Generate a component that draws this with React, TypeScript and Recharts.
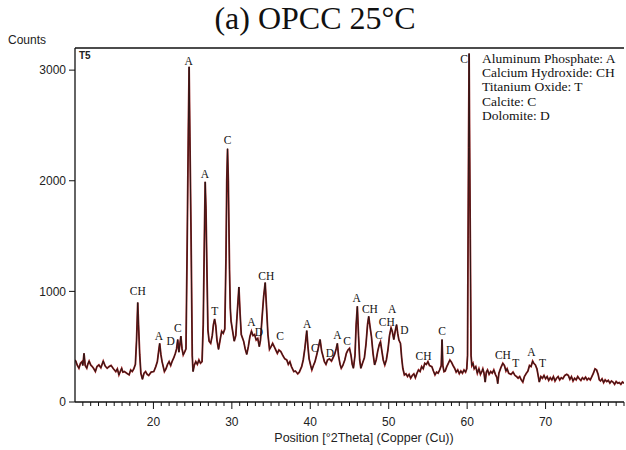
import React from "react";
import {
  ComposedChart,
  Line,
  Scatter,
  XAxis,
  YAxis,
  ReferenceLine,
} from "recharts";

// XRD scan, [2theta, counts], split by angular range
const scan10to25: [number, number][] = [
  [10.0, 380], [10.1, 370], [10.3, 330], [10.5, 305], [10.7, 350], [10.9, 365],
  [11.0, 330], [11.15, 440], [11.3, 330], [11.5, 305], [11.65, 345], [11.8, 370],
  [12.0, 335], [12.2, 320], [12.4, 300], [12.6, 275], [12.8, 320], [13.05, 335],
  [13.3, 310], [13.6, 370], [13.85, 325], [14.1, 305], [14.35, 320], [14.6, 330],
  [14.9, 300], [15.2, 275], [15.4, 300], [15.6, 245], [15.8, 280], [15.95, 305],
  [16.1, 270], [16.3, 275], [16.6, 260], [16.9, 245], [17.1, 290], [17.3, 275],
  [17.5, 300], [17.7, 340], [17.85, 560], [18.0, 900], [18.1, 700], [18.25, 430],
  [18.4, 260], [18.6, 205], [18.8, 260], [19.0, 275], [19.2, 250], [19.4, 240],
  [19.7, 270], [20.05, 275], [20.3, 320], [20.5, 365], [20.65, 450], [20.8, 530],
  [20.95, 430], [21.1, 365], [21.4, 275], [21.6, 300], [21.8, 340], [22.0, 365],
  [22.2, 330], [22.4, 370], [22.6, 400], [22.8, 440], [22.95, 480], [23.1, 565],
  [23.25, 450], [23.5, 595], [23.65, 480], [23.8, 425], [24.0, 455], [24.15, 480],
  [24.3, 1400], [24.45, 2450], [24.55, 3030], [24.65, 2400], [24.8, 1500], [24.95, 420],
];

const scan25to40: [number, number][] = [
  [25.05, 275], [25.2, 330], [25.4, 365], [25.6, 340], [25.8, 380], [26.0, 350],
  [26.2, 365], [26.35, 700], [26.5, 1500], [26.6, 1990], [26.7, 1750], [26.82, 1200],
  [26.95, 650], [27.1, 550], [27.3, 530], [27.5, 600], [27.65, 700], [27.8, 750],
  [27.95, 690], [28.1, 560], [28.3, 475], [28.5, 560], [28.7, 640], [28.9, 620],
  [29.1, 660], [29.25, 1300], [29.35, 2000], [29.45, 2290], [29.55, 2000], [29.7, 1200],
  [29.8, 850], [29.9, 730], [30.1, 640], [30.3, 550], [30.5, 600], [30.7, 820],
  [30.9, 1040], [31.05, 800], [31.2, 610], [31.5, 550], [31.7, 480], [31.9, 430],
  [32.1, 500], [32.3, 590], [32.5, 640], [32.7, 600], [32.9, 610], [33.1, 560],
  [33.3, 575], [33.5, 500], [33.65, 560], [33.85, 760], [34.05, 950], [34.25, 1080],
  [34.4, 880], [34.6, 610], [34.8, 475], [35.0, 500], [35.2, 530], [35.4, 500],
  [35.6, 470], [35.8, 440], [36.0, 470], [36.25, 455], [36.5, 420], [36.75, 390],
  [37.0, 380], [37.2, 340], [37.4, 365], [37.6, 320], [37.9, 275], [38.1, 280],
  [38.4, 255], [38.6, 270], [38.9, 320], [39.1, 380], [39.3, 480], [39.55, 645],
  [39.7, 500], [39.85, 390],
];

const scan40to60: [number, number][] = [
  [40.05, 330], [40.2, 290], [40.4, 330], [40.6, 365], [40.8, 420], [41.0, 480],
  [41.25, 565], [41.45, 460], [41.6, 420], [41.8, 365], [42.0, 340], [42.2, 380],
  [42.45, 390], [42.7, 370], [42.9, 400], [43.1, 430], [43.3, 480], [43.45, 530],
  [43.6, 420], [43.8, 340], [43.95, 305], [44.15, 330], [44.4, 380], [44.6, 440],
  [44.8, 470], [45.0, 485], [45.2, 420], [45.35, 340], [45.5, 305], [45.7, 420],
  [45.85, 700], [46.0, 865], [46.15, 600], [46.3, 380], [46.45, 305], [46.7, 360],
  [46.9, 400], [47.1, 520], [47.3, 700], [47.45, 775], [47.6, 690], [47.8, 590],
  [48.0, 440], [48.2, 335], [48.4, 380], [48.6, 460], [48.8, 520], [48.95, 545],
  [49.15, 450], [49.3, 380], [49.5, 335], [49.7, 380], [49.9, 470], [50.1, 600],
  [50.3, 670], [50.45, 640], [50.65, 565], [50.85, 650], [51.0, 700], [51.15, 620],
  [51.3, 560], [51.5, 530], [51.65, 400], [51.8, 305], [52.0, 245], [52.2, 255],
  [52.4, 230], [52.6, 250], [52.8, 215], [53.0, 240], [53.2, 255], [53.4, 220],
  [53.6, 260], [53.8, 290], [54.0, 275], [54.2, 320], [54.4, 300], [54.6, 350],
  [54.8, 340], [55.0, 365], [55.2, 330], [55.5, 320], [55.7, 280], [55.9, 245],
  [56.1, 270], [56.3, 260], [56.5, 290], [56.7, 330], [56.8, 565], [56.9, 330],
  [57.05, 275], [57.2, 280], [57.4, 320], [57.6, 350], [57.8, 380], [58.0, 360],
  [58.2, 330], [58.4, 305], [58.6, 270], [58.8, 290], [59.0, 255], [59.2, 280],
  [59.4, 260], [59.6, 290], [59.8, 270], [59.95, 300],
];

const scan60to80: [number, number][] = [
  [60.05, 420], [60.12, 1500], [60.18, 2300], [60.25, 3150], [60.32, 2300], [60.4, 1480],
  [60.5, 420], [60.6, 330], [60.75, 350], [60.9, 300], [61.1, 320], [61.3, 260],
  [61.5, 300], [61.7, 250], [61.9, 280], [62.0, 300], [62.15, 260], [62.3, 180],
  [62.45, 270], [62.6, 290], [62.8, 250], [63.0, 275], [63.2, 260], [63.4, 290],
  [63.6, 250], [63.8, 220], [63.9, 165], [64.05, 260], [64.3, 310], [64.55, 350],
  [64.75, 330], [64.95, 280], [65.1, 300], [65.3, 260], [65.6, 250], [65.85, 270],
  [66.1, 240], [66.3, 230], [66.5, 215], [66.7, 230], [66.9, 200], [67.1, 180],
  [67.3, 230], [67.55, 260], [67.75, 280], [67.95, 330], [68.15, 320], [68.35, 370],
  [68.5, 350], [68.7, 335], [68.9, 300], [69.05, 240], [69.2, 180], [69.4, 230],
  [69.6, 215], [69.8, 240], [70.0, 210], [70.2, 230], [70.4, 195], [70.6, 220],
  [70.8, 200], [71.0, 230], [71.2, 190], [71.4, 215], [71.6, 230], [71.8, 200],
  [72.0, 220], [72.2, 210], [72.45, 240], [72.7, 250], [72.9, 240], [73.1, 205],
  [73.3, 230], [73.5, 190], [73.7, 215], [73.9, 200], [74.1, 230], [74.3, 210],
  [74.5, 195], [74.7, 220], [74.9, 205], [75.1, 225], [75.3, 200], [75.5, 215],
  [75.7, 200], [75.9, 230], [76.1, 260], [76.3, 300], [76.5, 290], [76.7, 250],
  [76.85, 200], [77.0, 190], [77.2, 210], [77.4, 175], [77.6, 200], [77.8, 185],
  [78.0, 195], [78.2, 170], [78.4, 190], [78.6, 180], [78.8, 160], [79.0, 185],
  [79.2, 170], [79.4, 175], [79.6, 160], [79.8, 180], [80.0, 170],
];

// phase markers: [2theta, counts at text centre, phase]
const phaseMarks: [number, number, string][] = [
  [18.0, 1003, "CH"], [20.7, 600, "A"], [22.2, 553, "D"], [23.1, 668, "C"],
  [24.5, 3083, "A"], [26.56, 2061, "A"], [27.83, 827, "T"], [29.45, 2365, "C"],
  [32.5, 720, "A"], [33.45, 635, "D"], [34.4, 1140, "CH"], [36.15, 593, "C"],
  [39.6, 708, "A"], [40.57, 486, "C"], [42.5, 440, "D"], [43.45, 602, "A"],
  [44.7, 547, "C"], [45.9, 937, "A"], [47.6, 842, "CH"], [48.75, 605, "C"],
  [49.75, 725, "CH"], [50.45, 840, "A"], [52.0, 654, "D"], [54.45, 417, "CH"],
  [56.8, 638, "C"], [57.85, 471, "D"], [59.6, 3100, "C"], [64.56, 426, "CH"],
  [66.2, 350, "T"], [68.2, 450, "A"], [69.6, 350, "T"],
];

const phaseKey = [
  "Aluminum Phosphate: A",
  "Calcium Hydroxide: CH",
  "Titanium Oxide: T",
  "Calcite: C",
  "Dolomite: D",
];

const yTicks = [0, 1000, 2000, 3000];
const xMajor = [20, 30, 40, 50, 60, 70];
const xTicks = Array.from({ length: 70 }, (_, i) => 11 + i);

const pattern = [...scan10to25, ...scan25to40, ...scan40to60, ...scan60to80].map(
  ([x, y]) => ({ x, y })
);
const marks = phaseMarks.map(([x, y, text]) => ({ x, y, text }));

const sans = "'Liberation Sans', Arial, sans-serif";
const serif = "'Liberation Serif', 'Times New Roman', serif";

const XTick = (props: any) => {
  const { x, y, payload } = props;
  const v = payload.value;
  const major = xMajor.includes(v);
  return (
    <g>
      <line x1={x} x2={x} y1={y} y2={y + (major ? 7 : 4)} stroke="#111" strokeWidth={1} />
      {major && (
        <text x={x} y={y + 24} textAnchor="middle" fontSize={12} fontFamily={sans} fill="#222">
          {v}
        </text>
      )}
    </g>
  );
};

const MarkText = (props: any) => {
  const { cx, cy, payload } = props;
  return (
    <text
      x={cx}
      y={cy}
      textAnchor="middle"
      dominantBaseline="central"
      fontSize={11.5}
      fontFamily={serif}
      fill="#111"
    >
      {payload.text}
    </text>
  );
};

export default function App() {
  return (
    <div style={{ position: "absolute", left: 0, top: 0, width: 626, height: 450, background: "#fff" }}>
      <div
        style={{
          position: "absolute",
          left: 0,
          width: 630,
          top: 0,
          lineHeight: "36px",
          textAlign: "center",
          fontFamily: serif,
          fontSize: 32,
          color: "#111",
        }}
      >
        (a) OPCC 25°C
      </div>
      <div style={{ position: "absolute", left: 8, top: 33, fontFamily: sans, fontSize: 12, color: "#222" }}>
        Counts
      </div>
      <div
        style={{ position: "absolute", left: 79, top: 50, fontFamily: sans, fontSize: 10, fontWeight: "bold", color: "#222" }}
      >
        T5
      </div>
      <div
        style={{
          position: "absolute",
          left: 482,
          top: 52,
          fontFamily: serif,
          fontSize: 13.5,
          lineHeight: "14.2px",
          color: "#111",
          zIndex: 2,
          whiteSpace: "nowrap",
        }}
      >
        {phaseKey.map((t) => (
          <div key={t}>{t}</div>
        ))}
      </div>
      <div
        style={{ position: "absolute", left: 364, top: 431, transform: "translateX(-50%)", fontFamily: sans, fontSize: 12.5, color: "#222", whiteSpace: "nowrap" }}
      >
        Position [°2Theta] (Copper (Cu))
      </div>
      <ComposedChart width={626} height={450} margin={{ top: 48, right: 2, left: 0, bottom: 0 }}>
        <XAxis
          dataKey="x"
          type="number"
          domain={[10, 80]}
          ticks={xTicks}
          interval={0}
          tick={<XTick />}
          tickSize={0}
          tickMargin={0}
          tickLine={false}
          axisLine={{ stroke: "#111", strokeWidth: 1.3 }}
          height={48}
          allowDataOverflow
        />
        <YAxis
          type="number"
          domain={[0, 3200]}
          ticks={yTicks}
          width={75}
          tickSize={6}
          tickMargin={3}
          tick={{ fontSize: 12, fontFamily: sans, fill: "#222" }}
          tickLine={{ stroke: "#111" }}
          axisLine={{ stroke: "#111", strokeWidth: 1.3 }}
          allowDataOverflow
        />
        <ReferenceLine y={3200} stroke="#111" strokeWidth={1.3} />
        <Line
          data={pattern}
          dataKey="y"
          type="linear"
          stroke="#951c1c"
          strokeWidth={1.8}
          dot={false}
          isAnimationActive={false}
        />
        <Line
          data={pattern}
          dataKey="y"
          type="linear"
          stroke="#161616"
          strokeWidth={0.8}
          dot={false}
          isAnimationActive={false}
        />
        <Scatter data={marks} dataKey="y" shape={<MarkText />} isAnimationActive={false} />
      </ComposedChart>
    </div>
  );
}
